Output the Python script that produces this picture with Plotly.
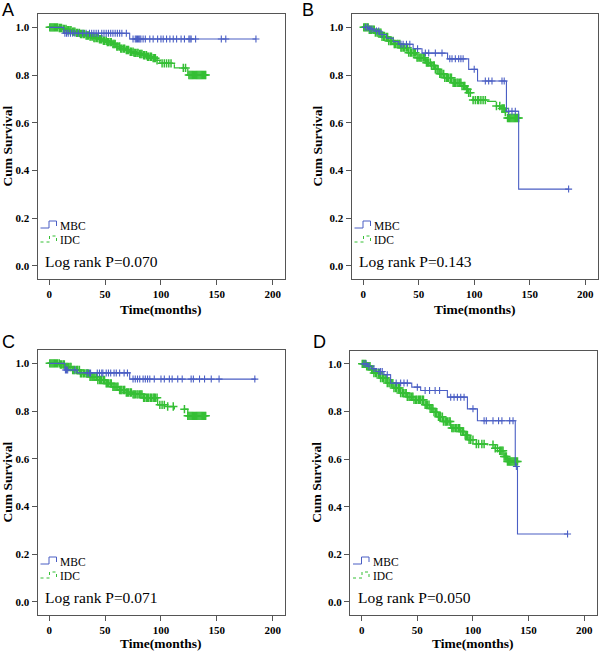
import numpy as np
import plotly.graph_objects as go

BLUE = "#4a5ec4"
GREEN = "#35bf35"
FRAME = "#555555"

# ---------------- data ----------------
# Panel A
a_mbc_t = [0, 13, 72]
a_mbc_s = [1.0, 0.975, 0.951]
a_mbc_end = 185
a_mbc_cens = [14, 15.5, 17, 19, 21, 23, 26, 30, 33, 36, 38, 40, 42, 44, 47, 49, 51, 53, 55, 57, 59,
              61, 63, 65, 69, 75, 77, 78, 79, 80, 81, 82, 84, 86, 90, 93, 97, 100, 102, 105, 108,
              111, 114, 118, 121, 125, 126, 127, 131, 154, 158, 185]
a_idc_t = [0, 8, 12, 16, 20, 24, 28, 32, 36, 40, 44, 48, 52, 56, 60, 64, 68, 72, 76, 80, 84, 88,
           92, 96, 99, 112, 124]
a_idc_s = [1.0, 0.997, 0.993, 0.988, 0.982, 0.977, 0.972, 0.966, 0.961, 0.955, 0.95, 0.944, 0.938,
           0.93, 0.92, 0.911, 0.905, 0.898, 0.893, 0.888, 0.883, 0.877, 0.871, 0.862, 0.849, 0.83,
           0.80]
a_idc_end = 140
a_idc_late_cens = [101, 103, 105, 107, 109, 120, 122, 125, 126, 127, 128, 129, 130, 131, 132, 133,
                   134, 135, 136, 137, 138, 139, 140]

# Panel B
b_mbc_t = [0, 5, 10, 15, 21, 27, 32, 45, 53, 76, 95, 103, 129, 140]
b_mbc_s = [1.0, 0.993, 0.985, 0.97, 0.955, 0.94, 0.929, 0.91, 0.892, 0.868, 0.824, 0.775, 0.648,
           0.322]
b_mbc_end = 185
b_mbc_cens = [2, 4, 6, 8, 12, 14, 17, 34, 36, 39, 42, 49, 56, 59, 65, 71, 78, 80, 83, 86, 88, 90,
              100, 110, 113, 116, 125, 127, 131, 134, 137, 185]
b_idc_t = [0, 5, 11, 17, 23, 28, 34, 41, 48, 56, 61, 65, 69, 73, 80, 89, 92, 95, 97, 99, 112, 120,
           124, 128, 130]
b_idc_s = [1.0, 0.99, 0.978, 0.96, 0.943, 0.93, 0.915, 0.894, 0.873, 0.852, 0.84, 0.824, 0.805,
           0.789, 0.768, 0.754, 0.74, 0.726, 0.705, 0.695, 0.69, 0.67, 0.66, 0.645, 0.62]
b_idc_end = 140
b_idc_late_cens = [99, 101, 103, 104, 106, 108, 110, 120, 123, 125, 126, 127, 128, 130, 131, 132,
                   133, 134, 135, 136, 137, 138, 139, 140]

# Panel C
c_mbc_t = [0, 14, 25, 72]
c_mbc_s = [1.0, 0.972, 0.96, 0.934]
c_mbc_end = 185
c_mbc_cens = [14.5, 15.5, 16.5, 23, 34, 36, 37, 43, 45, 47, 48, 51, 53, 55, 58, 60, 63, 67, 70, 75,
              77, 79, 81, 84, 86, 88, 90, 94, 100, 103, 107.5, 110, 115, 119, 127, 129, 134.5,
              139, 145, 152, 184]
c_idc_t = [0, 10, 15, 21, 28, 36, 43, 51, 57, 63, 69, 75, 84, 97, 104, 112, 124]
c_idc_s = [1.0, 0.995, 0.985, 0.972, 0.958, 0.944, 0.93, 0.916, 0.902, 0.888, 0.878, 0.87, 0.856,
           0.826, 0.819, 0.808, 0.78]
c_idc_end = 140.5
c_idc_late_cens = [99, 101, 103, 106, 111, 121, 124, 125, 126, 127, 128, 129, 130, 131, 132, 133,
                   134, 135, 136, 137, 138, 139, 140]

# Panel D
d_mbc_t = [0, 5, 9, 13, 20, 26, 45, 53, 77, 95, 104, 138, 140]
d_mbc_s = [1.0, 0.99, 0.98, 0.968, 0.954, 0.919, 0.902, 0.888, 0.86, 0.811, 0.761, 0.569, 0.285]
d_mbc_end = 185
d_mbc_cens = [2, 4, 6.5, 11, 15.5, 17, 18.5, 23, 31, 35, 38, 41, 50, 57, 61, 66, 70, 80, 83, 86,
              89, 92, 100, 110, 112, 118, 123, 126, 133, 136, 139, 185]
d_idc_t = [0, 4, 8, 11, 17, 23, 29, 35, 41, 47, 56, 61, 65, 69, 73, 80, 89, 93, 96.5, 101, 113,
           120, 124, 128, 131]
d_idc_s = [1.0, 0.99, 0.975, 0.961, 0.94, 0.919, 0.898, 0.877, 0.862, 0.849, 0.828, 0.812, 0.797,
           0.778, 0.758, 0.73, 0.716, 0.70, 0.681, 0.663, 0.66, 0.645, 0.635, 0.611, 0.59]
d_idc_end = 140.5
d_idc_late_cens = [98, 100, 103, 105, 108, 110, 118, 120, 122, 124, 125, 126, 127, 128, 129, 130,
                   131, 132, 133, 134, 135, 136, 137, 138, 139, 140]

# dense early IDC censoring (all panels)
idc_early_cens = [0.5, 1.5, 2.5, 3.5, 4.5, 5.5, 6.5, 7.5, 9, 10, 11, 12.5, 13.5, 15, 16, 17, 18.5,
                  19.5, 21, 22, 23, 24.5, 25.5, 27, 28, 29, 30.5, 31.5, 33, 34, 35, 36.5, 37.5, 39,
                  40, 41, 42.5, 43.5, 45, 46, 47, 48.5, 49.5, 51, 52, 53, 54.5, 55.5, 57, 58, 59,
                  60.5, 61.5, 63, 64, 65, 66.5, 67.5, 69, 70, 71, 72.5, 73.5, 75, 76, 77, 78.5,
                  79.5, 81, 82, 83, 84.5, 85.5, 87, 88, 89, 90.5, 91.5, 93, 94, 95, 96.5]

panel_letters = ["A", "B", "C", "D"]
p_values = ["Log rank P=0.070", "Log rank P=0.143", "Log rank P=0.071", "Log rank P=0.050"]
x_ticks = [0, 50, 100, 150, 200]
y_ticks = [0.0, 0.2, 0.4, 0.6, 0.8, 1.0]
y_ticktext = ["0.0", "0.2", "0.4", "0.6", "0.8", "1.0"]

panels = [
    (a_mbc_t, a_mbc_s, a_mbc_end, a_mbc_cens, a_idc_t, a_idc_s, a_idc_end, a_idc_late_cens),
    (b_mbc_t, b_mbc_s, b_mbc_end, b_mbc_cens, b_idc_t, b_idc_s, b_idc_end, b_idc_late_cens),
    (c_mbc_t, c_mbc_s, c_mbc_end, c_mbc_cens, c_idc_t, c_idc_s, c_idc_end, c_idc_late_cens),
    (d_mbc_t, d_mbc_s, d_mbc_end, d_mbc_cens, d_idc_t, d_idc_s, d_idc_end, d_idc_late_cens),
]

# ---------------- layout geometry (pixels in a 600x652 page) ----------------
W, H = 600, 652
frames = [  # left, right, top, bottom
    (37.5, 285, 14, 279),
    (351.5, 597.5, 14, 279),
    (37.5, 285, 350, 615),
    (350, 596.5, 350.5, 615),
]
letter_pos = [(0, 10), (300, 10), (0, 341.5), (311, 341.5)]
ytitle_x = [7, 317, 7, 317]
xtitle_y = [310, 310, 643, 643]


def step_lookup(times, surv, c):
    idx = np.searchsorted(np.asarray(times, float), np.asarray(c, float), side="right") - 1
    return list(np.asarray(surv)[idx])


fig = go.Figure()
annotations = []
shapes = []

for i, (mt, ms, mend, mc, it, isv, iend, ilate) in enumerate(panels):
    n = "" if i == 0 else str(i + 1)
    xa, ya = "x" + n, "y" + n
    icens = idc_early_cens + ilate
    # IDC (green, dashed)
    fig.add_trace(go.Scatter(x=list(it) + [iend], y=list(isv) + [isv[-1]], mode="lines",
                             line=dict(color=GREEN, width=1.3, dash="dash", shape="hv"),
                             xaxis=xa, yaxis=ya, showlegend=False, hoverinfo="skip"))
    fig.add_trace(go.Scatter(x=icens, y=step_lookup(it, isv, icens), mode="markers",
                             marker=dict(symbol="cross-thin", size=6,
                                         line=dict(color=GREEN, width=1.5)),
                             xaxis=xa, yaxis=ya, showlegend=False, hoverinfo="skip"))
    # MBC (blue)
    fig.add_trace(go.Scatter(x=list(mt) + [mend], y=list(ms) + [ms[-1]], mode="lines",
                             line=dict(color=BLUE, width=1.1, shape="hv"),
                             xaxis=xa, yaxis=ya, showlegend=False, hoverinfo="skip"))
    fig.add_trace(go.Scatter(x=mc, y=step_lookup(mt, ms, mc), mode="markers",
                             marker=dict(symbol="cross-thin", size=5,
                                         line=dict(color=BLUE, width=1.1)),
                             xaxis=xa, yaxis=ya, showlegend=False, hoverinfo="skip"))

    l, r, t, b = frames[i]
    axfont = dict(family="Liberation Serif", size=11, color="black", weight="bold")
    common = dict(showline=True, linecolor=FRAME, linewidth=1, mirror=True, showgrid=False,
                  zeroline=False, ticks="outside", ticklen=5, tickcolor=FRAME, tickwidth=1,
                  tickfont=axfont, fixedrange=True)
    fig.update_layout(**{
        "xaxis" + n: dict(domain=[l / W, r / W], range=[-10.5, 211], tickvals=x_ticks,
                          anchor=ya, **common),
        "yaxis" + n: dict(domain=[1 - b / H, 1 - t / H], range=[-0.055, 1.056],
                          tickvals=y_ticks, ticktext=y_ticktext, anchor=xa, **common),
    })

    xd, yd = xa + " domain", ya + " domain"
    pw, ph = r - l, b - t

    def dx(px):
        return (px - l) / pw

    def dy(py):
        return (b - py) / ph

    # panel letter
    lx, ly = letter_pos[i]
    annotations.append(dict(text=panel_letters[i], xref="paper", yref="paper", x=lx / W,
                            y=1 - ly / H, xanchor="left", yanchor="middle", showarrow=False,
                            font=dict(family="Liberation Sans", size=18, color="black")))
    # axis titles
    annotations.append(dict(text="Cum Survival", xref="paper", yref=yd, x=ytitle_x[i] / W,
                            y=0.5, textangle=-90, xanchor="center", yanchor="middle",
                            showarrow=False,
                            font=dict(family="Liberation Serif", size=13.5, color="black",
                                      weight="bold")))
    annotations.append(dict(text="Time(months)", xref=xd, yref="paper", x=0.5,
                            y=1 - xtitle_y[i] / H, xanchor="center", yanchor="middle",
                            showarrow=False,
                            font=dict(family="Liberation Serif", size=13.5, color="black",
                                      weight="bold")))
    # legend
    annotations.append(dict(text="MBC", xref=xd, yref=yd, x=dx(l + 20.5), y=dy(b - 53),
                            xanchor="left", yanchor="middle", showarrow=False,
                            font=dict(family="Liberation Serif", size=11.5, color="black")))
    annotations.append(dict(text="IDC", xref=xd, yref=yd, x=dx(l + 20.5), y=dy(b - 39),
                            xanchor="left", yanchor="middle", showarrow=False,
                            font=dict(family="Liberation Serif", size=11.5, color="black")))
    annotations.append(dict(text=p_values[i], xref=xd, yref=yd, x=dx(l + 5.5), y=dy(b - 18),
                            xanchor="left", yanchor="middle", showarrow=False,
                            font=dict(family="Liberation Serif", size=15.5, color="black")))
    # legend glyphs
    p1 = (f"M {dx(l + 3)},{dy(b - 51)} L {dx(l + 11.5)},{dy(b - 51)} L {dx(l + 11.5)},{dy(b - 58)} "
          f"L {dx(l + 19)},{dy(b - 58)} L {dx(l + 19)},{dy(b - 53)}")
    shapes.append(dict(type="path", xref=xd, yref=yd, path=p1,
                       line=dict(color=BLUE, width=1)))
    p2 = (f"M {dx(l + 3)},{dy(b - 37)} L {dx(l + 12)},{dy(b - 37)} L {dx(l + 12)},{dy(b - 43)} "
          f"L {dx(l + 19)},{dy(b - 43)} L {dx(l + 19)},{dy(b - 38)}")
    shapes.append(dict(type="path", xref=xd, yref=yd, path=p2,
                       line=dict(color=GREEN, width=1, dash="dot")))

fig.update_layout(width=W, height=H, margin=dict(l=0, r=0, t=0, b=0),
                  paper_bgcolor="white", plot_bgcolor="white",
                  annotations=annotations, shapes=shapes, showlegend=False)

fig.write_html("out.html", config={"displayModeBar": False},
               post_script="document.body.style.margin='0';document.body.style.overflow='hidden';")
